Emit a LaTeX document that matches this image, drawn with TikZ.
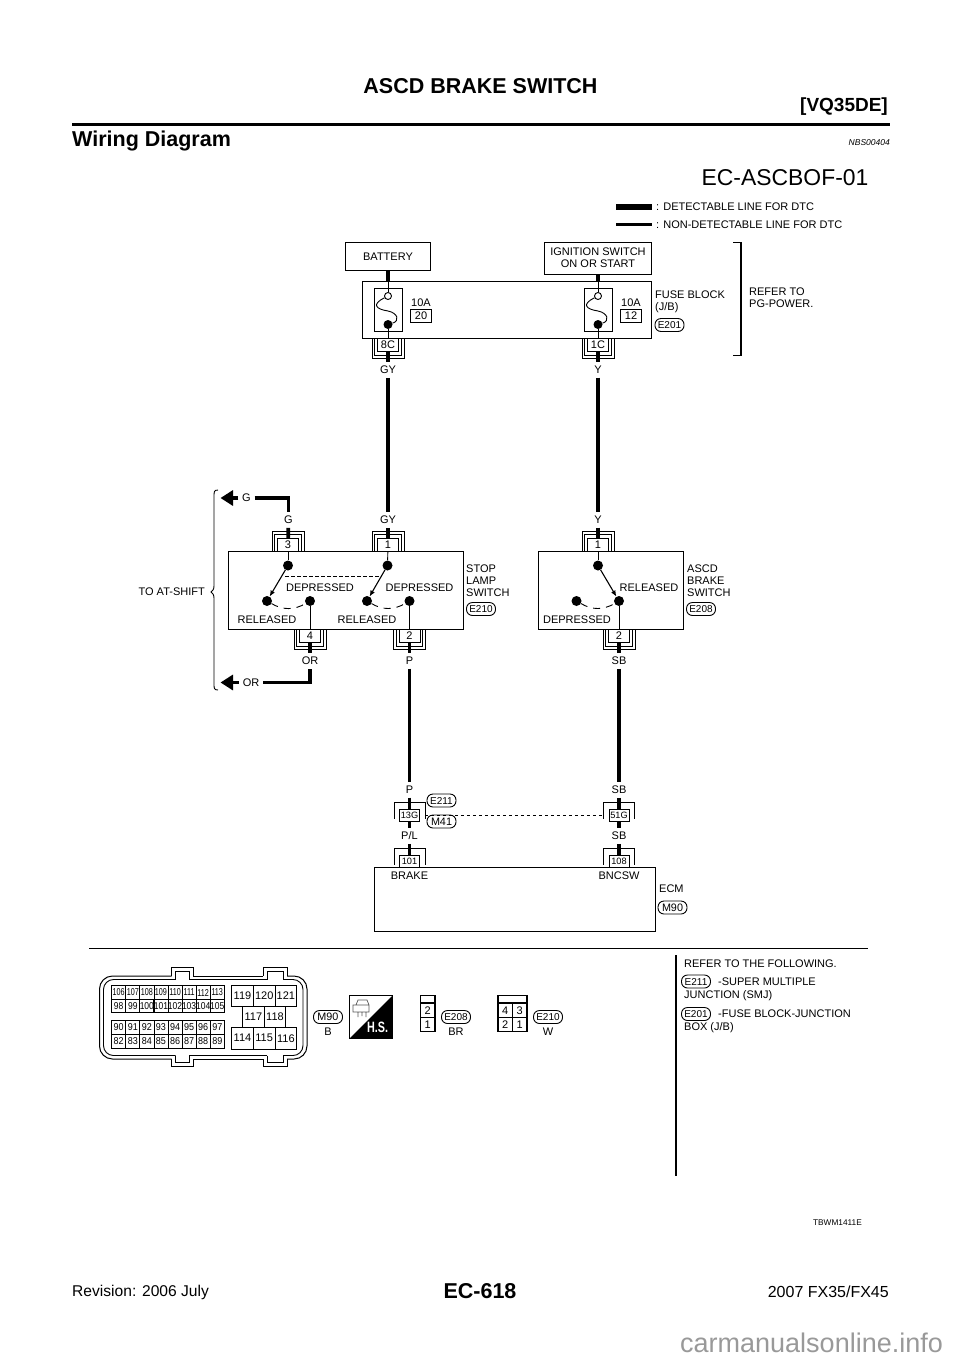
\documentclass[tikz,border=0pt]{standalone}
\usepackage{fontspec}
\setmainfont{Liberation Sans}
\usepackage{tikz}
\usetikzlibrary{arrows.meta,positioning}

\begin{document}
\begin{tikzpicture}[x = 1pt, y = -1pt,
						lbl/.style = {font = \fontsize{11}{12}\selectfont, inner sep = 1pt, align = left},
						wirelbl/.style = {font = \fontsize{11}{12}\selectfont, inner sep = 3.7pt},
						unit/.style = {rectangle, draw, line width = 1pt, font = \fontsize{11}{12}\selectfont, align = center},
						pin/.style = {rectangle, draw, fill = white, line width = 0.9pt, inner sep = 0pt, minimum width = 21pt, minimum height = 12.5pt, font = \fontsize{11}{12}\selectfont},
						smallpin/.style = {pin, minimum width = 20pt, font = \fontsize{9.2}{10}\selectfont},
						oval/.style = {rectangle, draw, rounded corners = 6pt, line width = 0.9pt, inner sep = 0pt, minimum width = 29pt, minimum height = 13pt, font = \fontsize{10}{11}\selectfont},
						dot/.style = {circle, fill = black, inner sep = 0pt, minimum size = 10pt},
						wire/.style = {line width = 3.7pt},
						thinwire/.style = {line width = 0.9pt},
						shell/.style = {line width = 0.9pt},
						arm/.style = {line width = 1.1pt, -{Latex[length = 6pt, width = 5pt]}},
						travel/.style = {line width = 0.9pt, dash pattern = on 7pt off 6pt},
						link/.style = {line width = 0.9pt, dash pattern = on 3.5pt off 2.5pt},
						cell/.style = {rectangle, draw, line width = 0.8pt, inner sep = 0pt, font = \fontsize{10}{11}\selectfont}]
		\useasboundingbox (0,0) rectangle (960,1358);
		\fill [white] (0,0) rectangle (960,1358);
		% Start of page head
		\node (title) at (480.5,86) [font = \fontsize{21.5}{22}\selectfont\bfseries] {ASCD BRAKE SWITCH};
		\node (engine) at (888,107) [anchor = east, inner sep = 0pt, font = \fontsize{19}{20}\selectfont\bfseries] {[VQ35DE]};
		\draw [line width = 2.4pt] (72,124.5) -- (890,124.5);
		\node (section) at (72,141) [anchor = west, inner sep = 0pt, font = \fontsize{21.5}{22}\selectfont\bfseries] {Wiring Diagram};
		\node (nbs) at (890,143) [anchor = east, inner sep = 0pt, font = \fontsize{8.5}{9}\selectfont\itshape] {NBS00404};
		\node (code) at (785,178) [font = \fontsize{22.9}{24}\selectfont] {EC-ASCBOF-01};
		% Legend
		\coordinate (legA) at (616,206.5);
		\coordinate (legB) at (616,224.5);
		\node (legAtext) at (652,206.5) [lbl, anchor = west, inner sep = 0pt, inner xsep = 4pt] {: DETECTABLE LINE FOR DTC};
		\node (legBtext) at (652,224.5) [lbl, anchor = west, inner sep = 0pt, inner xsep = 4pt] {: NON-DETECTABLE LINE FOR DTC};
		\draw [line width = 6pt] (legA) -- (legAtext.west);
		\draw [line width = 3pt] (legB) -- (legBtext.west);
		% Start of Fuse block
		\node (battery) at (388,256.5) [unit, minimum width = 85pt, minimum height = 28.5pt] {BATTERY};
		\node (ignition) at (598,258) [unit, minimum width = 107pt, minimum height = 32pt] {IGNITION SWITCH\\ON OR START};
		\node (fuseblock) at (507,310) [unit, minimum width = 289pt, minimum height = 56.5pt] {};
		\node (fuse1) at (388,310) [unit, minimum width = 28pt, minimum height = 43.5pt] {};
		\node (fuse2) at (598,310) [unit, minimum width = 28pt, minimum height = 43.5pt] {};
		\node (f1in) at (388,296) [circle, draw, fill = white, line width = 0.9pt, inner sep = 0pt, minimum size = 7pt] {};
		\node (f2in) at (598,296) [circle, draw, fill = white, line width = 0.9pt, inner sep = 0pt, minimum size = 7pt] {};
		\node (f1out) at (388,324.5) [dot, minimum size = 9pt] {};
		\node (f2out) at (598,324.5) [dot, minimum size = 9pt] {};
		\draw [thinwire] (f1in) .. controls (372,304) and (375,309) .. (388,311) .. controls (398,313) and (400,321) .. (f1out);
		\draw [thinwire] (f2in) .. controls (582,304) and (585,309) .. (598,311) .. controls (608,313) and (610,321) .. (f2out);
		\node (amp1) at (421,303) [lbl] {10A};
		\node (amp2) at (631,303) [lbl] {10A};
		\node (no20) [pin, minimum height = 13pt, below = 1pt of amp1] {20};
		\node (no12) [pin, minimum height = 13pt, below = 1pt of amp2] {12};
		\node (c8C) at (388,345) [pin] {8C};
		\node (c1C) at (598,345) [pin] {1C};
		\node (gy1) at (388,370) [wirelbl] {GY};
		\node (y1) at (598,370) [wirelbl] {Y};
		\node (fuselbl) at (654,302) [lbl, anchor = west] {FUSE BLOCK\\(J/B)};
		\node (e201) at (669.5,325) [oval] {E201};
		\draw [line width = 1.2pt] (733,242.5) -- (741,242.5) -- (741,355.5) -- (733,355.5);
		\node (refer) at (748,298) [lbl, anchor = west] {REFER TO\\PG-POWER.};
		\draw [wire] (battery) -- (fuse1.north |- fuseblock.north);
		\draw [wire] (fuse2.north |- ignition.south) -- (fuse2.north |- fuseblock.north);
		\draw [thinwire] (fuse1.north |- fuseblock.north) -- (f1in);
		\draw [thinwire] (fuse2.north |- fuseblock.north) -- (f2in);
		\draw [thinwire] (f1out) -- (c8C);
		\draw [thinwire] (f2out) -- (c1C);
		% Start of Stop lamp switch
		\node (stopsw) at (345.5,590.5) [unit, minimum width = 235pt, minimum height = 78.5pt] {};
		\node (c3) at (288,545) [pin] {3};
		\node (c1a) at (388,545) [pin] {1};
		\node (c4) at (310,636) [pin] {4};
		\node (c2a) at (409.5,636) [pin] {2};
		\node (piv1) at (288,565.5) [dot] {};
		\node (piv2) at (387.5,565.5) [dot] {};
		\node (rel1) at (267,601) [dot] {};
		\node (dep1) at (310,601) [dot] {};
		\node (rel2) at (367,601) [dot] {};
		\node (dep2) at (409.5,601) [dot] {};
		\draw [thinwire] (c3) -- (piv1);
		\draw [thinwire] (c1a) -- (piv2);
		\draw [arm] (piv1) -- (rel1);
		\draw [arm] (piv2) -- (rel2);
		\draw [travel] (rel1) to [bend right = 30] (dep1);
		\draw [travel] (rel2) to [bend right = 30] (dep2);
		\draw [thinwire] (dep1) -- (c4);
		\draw [thinwire] (dep2) -- (c2a);
		\coordinate (linkA) at (285,576.5);
		\coordinate (linkB) at (380.5,576.5);
		\draw [link] (linkA) -- (linkB);
		\node (dp1) at (320,587.5) [lbl] {DEPRESSED};
		\node (dp2) at (419.5,587.5) [lbl] {DEPRESSED};
		\node (rl1) at (267,619.5) [lbl] {RELEASED};
		\node (rl2) at (367,619.5) [lbl] {RELEASED};
		\node (stoplbl) at (465,581) [lbl, anchor = west] {STOP\\LAMP\\SWITCH};
		\node (e210) at (481,609) [oval] {E210};
		% Start of ASCD brake switch
		\node (ascdsw) at (610.5,590) [unit, minimum width = 145pt, minimum height = 78pt] {};
		\node (c1b) at (598,545) [pin] {1};
		\node (c2b) at (619,636) [pin] {2};
		\node (piv3) at (598,565.5) [dot] {};
		\node (dep3) at (576.5,601) [dot] {};
		\node (rel3) at (619,601) [dot] {};
		\draw [thinwire] (c1b) -- (piv3);
		\draw [arm] (piv3) -- (rel3);
		\draw [travel] (dep3) to [bend right = 30] (rel3);
		\draw [thinwire] (rel3) -- (c2b);
		\node (rl3) at (649,587.5) [lbl] {RELEASED};
		\node (dp3) at (577,619.5) [lbl] {DEPRESSED};
		\node (ascdlbl) at (686,581) [lbl, anchor = west] {ASCD\\BRAKE\\SWITCH};
		\node (e208) at (701,609) [oval] {E208};
		% Wires into the switches
		\node (gy2) at (388,520) [wirelbl] {GY};
		\node (y2) at (598,520) [wirelbl] {Y};
		\node (g2) at (288.5,520) [wirelbl] {G};
		\node (or2) at (310,661) [wirelbl] {OR};
		\node (p1) at (409.5,661) [wirelbl] {P};
		\node (sb1) at (619,661) [wirelbl] {SB};
		\node (g1) at (246.5,498) [wirelbl] {G};
		\node (or1) at (251,682.5) [wirelbl] {OR};
		\coordinate (gtip) at (220.5,498);
		\coordinate (ortip) at (220.5,682.5);
		\draw [wire] (gy1) -- (gy2);
		\draw [wire] (y1) -- (y2);
		\draw [wire] (c8C) -- (gy1);
		\draw [wire] (c1C) -- (y1);
		\draw [wire] (gy2) -- (c1a);
		\draw [wire] (y2) -- (c1b);
		\draw [wire] (g2) -- (c3);
		\draw [wire] (c4) -- (or2);
		\draw [wire] (c2a) -- (p1);
		\draw [wire] (c2b) -- (sb1);
		\draw [wire] (g1.east) -| (g2.north);
		\draw [wire] (or1.east) -| (or2.south);
		\draw [wire, -{Triangle[length = 12.5pt, width = 15pt]}] (g1.west) -- (gtip);
		\draw [wire, -{Triangle[length = 12.5pt, width = 15pt]}] (or1.west) -- (ortip);
		\node (atshift) at (205,592) [lbl, anchor = east, inner sep = 0pt] {TO AT-SHIFT};
		\draw [line width = 0.9pt] (218,490) .. controls (214,490) and (214,492) .. (214,496) -- (214,586) .. controls (214,590) and (212,591) .. (211,592) .. controls (212,593) and (214,594) .. (214,598) -- (214,684) .. controls (214,688) and (214,690) .. (218,690);
		% Start of ECM
		\node (p2) at (409.5,790) [wirelbl] {P};
		\node (sb2) at (619,790) [wirelbl] {SB};
		\node (c13G) at (409.5,815.5) [smallpin] {13G};
		\node (c51G) at (619,815.5) [smallpin] {51G};
		\node (pl) at (409.5,836) [wirelbl] {P/L};
		\node (sb3) at (619,836) [wirelbl] {SB};
		\node (c101) at (409.5,861.5) [smallpin] {101};
		\node (c108) at (619,861.5) [smallpin] {108};
		\node (ecm) at (514.5,899.5) [unit, minimum width = 281pt, minimum height = 64pt] {};
		\node (brake) at (409.5,875.5) [lbl] {BRAKE};
		\node (bncsw) at (619,875.5) [lbl] {BNCSW};
		\node (e211) at (441.5,800.5) [oval] {E211};
		\node (m41) at (441.5,821.5) [oval, font = \fontsize{10.8}{11}\selectfont] {M41};
		\node (ecmlbl) at (658,889) [lbl, anchor = west] {ECM};
		\node (m90) at (672.5,907.5) [oval, font = \fontsize{10.8}{11}\selectfont] {M90};
		\draw [wire] (p1) -- (p2);
		\draw [wire] (sb1) -- (sb2);
		\draw [wire] (p2) -- (c13G);
		\draw [wire] (sb2) -- (c51G);
		\draw [wire] (c13G) -- (pl);
		\draw [wire] (c51G) -- (sb3);
		\draw [wire] (pl) -- (c101);
		\draw [wire] (sb3) -- (c108);
		\draw [link] ([xshift = 5pt]c13G.east) -- ([xshift = -5pt]c51G.west);
		% Connector shells, drawn over the wires
		\foreach \n/\t in {c8C/8C, c1C/1C, c4/4, c2a/2, c2b/2} {
			\node [pin] at (\n) {\t};
			\draw [shell] ([xshift = -2.2pt]\n.north west) -- ([shift = {(-2.2,3.5)}]\n.south west) -- ([shift = {(2.2,3.5)}]\n.south east) -- ([xshift = 2.2pt]\n.north east);
			\draw [shell] ([xshift = -5pt]\n.north west) -- ([shift = {(-5,6.5)}]\n.south west) -- ([shift = {(5,6.5)}]\n.south east) -- ([xshift = 5pt]\n.north east);
		}
		\foreach \n/\t in {c3/3, c1a/1, c1b/1} {
			\node [pin] at (\n) {\t};
			\draw [shell] ([xshift = -2.2pt]\n.south west) -- ([shift = {(-2.2,-3.5)}]\n.north west) -- ([shift = {(2.2,-3.5)}]\n.north east) -- ([xshift = 2.2pt]\n.south east);
			\draw [shell] ([xshift = -5pt]\n.south west) -- ([shift = {(-5,-6.5)}]\n.north west) -- ([shift = {(5,-6.5)}]\n.north east) -- ([xshift = 5pt]\n.south east);
		}
		\foreach \n/\t in {c13G/13G, c51G/51G, c101/101, c108/108} {
			\node [smallpin] at (\n) {\t};
			\draw [shell] ([shift = {(-5,-3.5)}]\n.south west) -- ([shift = {(-5,-6)}]\n.north west) -- ([shift = {(5,-6)}]\n.north east) -- ([shift = {(5,-3.5)}]\n.south east);
		}
		% Start of harness views
		\draw [line width = 1pt] (89,948.5) -- (868,948.5);
		\draw [line width = 1.1pt] (676,955) -- (676,1176);
		\draw [line width = 1pt, rounded corners = 13pt] (171.5,976) -- (99.5,976) -- (99.5,1059) -- (171.5,1059);
		\draw [line width = 1pt] (193,976) -- (263,976) (193,1059) -- (263,1059);
		\draw [line width = 1pt, rounded corners = 13pt] (287,976) -- (307,976) -- (307,1059) -- (287,1059);
		\draw [line width = 0.9pt, rounded corners = 10pt] (175.5,979.5) -- (103.5,979.5) -- (103.5,1055.5) -- (175.5,1055.5);
		\draw [line width = 0.9pt] (189,979.5) -- (267,979.5) (189,1055.5) -- (267,1055.5);
		\draw [line width = 0.9pt, rounded corners = 10pt] (283,979.5) -- (303,979.5) -- (303,1055.5) -- (283,1055.5);
		\foreach \tabx/\tabw in {171.5/21.5, 263/24} {
			\draw [line width = 1pt] (\tabx,976) -- (\tabx,967) -- ++(\tabw,0) -- ++(0,9);
			\draw [line width = 0.9pt] ({\tabx+4},979.5) -- ({\tabx+4},971) -- ++({\tabw-8},0) -- ++(0,8.5);
			\draw [line width = 1pt] (\tabx,1059) -- (\tabx,1066.5) -- ++(\tabw,0) -- ++(0,-7.5);
			\draw [line width = 0.9pt] ({\tabx+4},1055.5) -- ({\tabx+4},1062.5) -- ++({\tabw-8},0) -- ++(0,-7);
		}
		% Terminals of M90, small block
		\foreach \first/\row/\sq in {106/992.5/.72, 98/1006/.85, 90/1027.5/.9, 82/1041.5/.9} {
			\foreach \i in {0,...,7} {
				\pgfmathtruncatemacro{\num}{\first+\i}
				\node (m90t\num) at ({118.7+14.08*\i},\row) [cell, minimum width = 14.08pt, minimum height = 13.6pt] {\scalebox{\sq}[1]{\num}};
			}
		}
		% Terminals of M90, large block
		\foreach \num/\tx/\ty in {119/242.5/996, 120/264.2/996, 121/285.9/996, 114/242.5/1038.2, 115/264.2/1038.2, 116/285.9/1038.2} {
			\node (m90t\num) at (\tx,\ty) [cell, minimum width = 21.67pt, minimum height = 21.6pt, font = \fontsize{11}{12}\selectfont] {\num};
		}
		\foreach \num/\tx in {117/253.4, 118/275} {
			\node (m90t\num) at (\tx,1017) [cell, minimum width = 21.6pt, minimum height = 20.6pt, font = \fontsize{11}{12}\selectfont] {\num};
		}
		\node (m90a) at (328,1017) [oval, font = \fontsize{10.8}{11}\selectfont] {M90};
		\node (m90b) at (328,1032) [lbl] {B};
		% H.S. mark
		\draw [line width = 1pt] (349.5,995.5) rectangle (392.5,1038.5);
		\fill (392.5,995.5) -- (392.5,1038.5) -- (349.5,1038.5) -- cycle;
		\node (hs) at (377.5,1027) [text = white, inner sep = 0pt, font = \fontsize{15}{16}\selectfont\bfseries] {\scalebox{.72}[1]{H.S.}};
		\draw [black!65, line width = 0.7pt] (353,1005) -- (353,1012) -- (369,1012) -- (369,1005) -- cycle (356,1005) -- (358,1000) -- (367,1000) -- (369,1005) (358,1012) -- (358,1017) (362,1012) -- (362,1016) (366,1012) -- (366,1017);
		% Views of E208 and E210
		\draw [line width = 1.1pt] (420.5,995.5) rectangle (435,1031.5);
		\draw [line width = 1.1pt] (420.5,1003) -- (435,1003);
		\node (e208t2) at (427.75,1010.3) [cell, minimum width = 14.5pt, minimum height = 14.7pt, font = \fontsize{11}{12}\selectfont] {2};
		\node (e208t1) at (427.75,1024.5) [cell, minimum width = 14.5pt, minimum height = 14pt, font = \fontsize{11}{12}\selectfont] {1};
		\node (e208a) at (456,1017) [oval] {E208};
		\node (e208b) at (456,1032) [lbl] {BR};
		\draw [line width = 1.1pt] (498,995.5) rectangle (527,1031.5);
		\draw [line width = 1.1pt] (498,1003) -- (527,1003);
		\node (e210t4) at (505.25,1010.3) [cell, minimum width = 14.5pt, minimum height = 14.7pt, font = \fontsize{11}{12}\selectfont] {4};
		\node (e210t3) at (519.75,1010.3) [cell, minimum width = 14.5pt, minimum height = 14.7pt, font = \fontsize{11}{12}\selectfont] {3};
		\node (e210t2) at (505.25,1024.5) [cell, minimum width = 14.5pt, minimum height = 14pt, font = \fontsize{11}{12}\selectfont] {2};
		\node (e210t1) at (519.75,1024.5) [cell, minimum width = 14.5pt, minimum height = 14pt, font = \fontsize{11}{12}\selectfont] {1};
		\node (e210a) at (548,1017) [oval] {E210};
		\node (e210b) at (548,1032) [lbl] {W};
		% Reference notes
		\node (note1) at (684,964) [lbl, anchor = west, inner sep = 0pt] {REFER TO THE FOLLOWING.};
		\node (e211a) at (696,981.5) [oval] {E211};
		\node (note2) at (718,981.5) [lbl, anchor = west, inner sep = 0pt] {-SUPER MULTIPLE};
		\node (note3) at (684,995.5) [lbl, anchor = west, inner sep = 0pt] {JUNCTION (SMJ)};
		\node (e201a) at (696,1014) [oval] {E201};
		\node (note4) at (718,1013.5) [lbl, anchor = west, inner sep = 0pt] {-FUSE BLOCK-JUNCTION};
		\node (note5) at (684,1028) [lbl, anchor = west, inner sep = 0pt] {BOX (J/B)};
		\node (tbwm) at (862,1223) [anchor = east, inner sep = 0pt, font = \fontsize{8.3}{9}\selectfont] {TBWM1411E};
		% Page foot
		\node (rev) at (72,1292) [anchor = west, inner sep = 0pt, font = \fontsize{15.6}{16}\selectfont] {Revision: 2006 July};
		\node (pageno) at (480,1291) [inner sep = 0pt, font = \fontsize{21.5}{22}\selectfont\bfseries] {EC-618};
		\node (model) at (889,1292) [anchor = east, inner sep = 0pt, font = \fontsize{16}{17}\selectfont] {2007 FX35/FX45};
		\node (site) at (680,1343) [anchor = west, inner sep = 0pt, text = black!40, font = \fontsize{27}{28}\selectfont] {carmanualsonline.info};
	\end{tikzpicture}
\end{document}
